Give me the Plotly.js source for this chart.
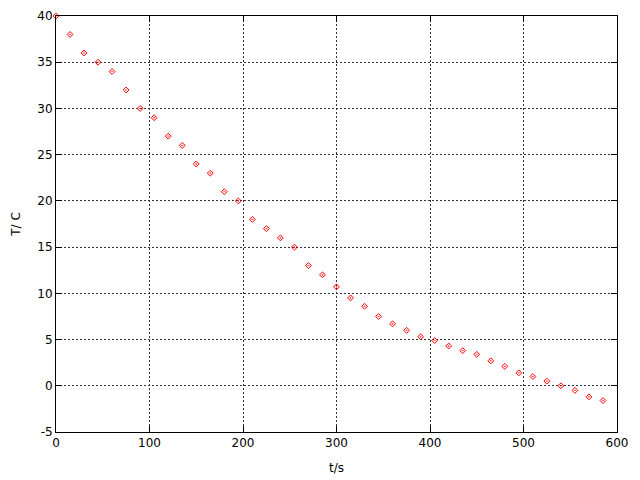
<!DOCTYPE html>
<html>
<head>
<meta charset="utf-8">
<script src="https://cdn.plot.ly/plotly-3.0.1.min.js"></script>
<style>html,body{margin:0;padding:0;background:#fff;}#chart{width:640px;height:480px;}</style>
</head>
<body>
<div id="chart"></div>
<script>
const timeS = [0, 15, 30, 45, 60, 75, 90, 105, 120, 135, 150, 165, 180, 195, 210, 225, 240, 255, 270, 285,
               300, 315, 330, 345, 360, 375, 390, 405, 420, 435, 450, 465, 480, 495, 510, 525, 540, 555, 570, 585];
const tempC = [40, 38, 36, 35, 34, 32, 30, 29, 27, 26, 24, 23, 21, 20, 18, 17, 16, 15, 13, 12,
               10.7, 9.5, 8.6, 7.5, 6.7, 6.0, 5.3, 4.9, 4.3, 3.8, 3.4, 2.7, 2.1, 1.4, 1.0, 0.5, 0, -0.5, -1.2, -1.6];
const xTicks = [0, 100, 200, 300, 400, 500, 600];
const yTicks = [-5, 0, 5, 10, 15, 20, 25, 30, 35, 40];

const trace = {
  x: timeS, y: tempC, type: 'scatter', mode: 'markers',
  marker: {symbol: 'diamond-open-dot', size: 4.5, color: '#ff0000', line: {width: 1, color: '#ff0000'}},
  hoverinfo: 'x+y', cliponaxis: false
};
const font = {family: 'DejaVu Sans, sans-serif', size: 12, color: '#000'};
const axisCommon = {
  showline: true, linecolor: '#000', linewidth: 1, mirror: 'allticks',
  ticks: 'inside', ticklen: 6, tickcolor: '#000', tickwidth: 1,
  showgrid: true, gridcolor: '#333', griddash: '2px,2px', gridwidth: 1,
  zeroline: false, tickfont: font
};
const layout = {
  width: 640, height: 480,
  margin: {l: 56, r: 23, t: 16, b: 48},
  paper_bgcolor: '#fff', plot_bgcolor: '#fff',
  showlegend: false, font: font,
  xaxis: Object.assign({}, axisCommon, {range: [0, 600], tickvals: xTicks, ticktext: xTicks.map(String),
    title: {text: 't/s', font: font, standoff: 14}}),
  yaxis: Object.assign({}, axisCommon, {range: [-5, 40], tickvals: yTicks, ticktext: yTicks.map(String),
    title: {text: 'T/ C', font: font, standoff: 14}})
};
Plotly.newPlot('chart', [trace], layout, {displayModeBar: false, staticPlot: true});
</script>
</body>
</html>
